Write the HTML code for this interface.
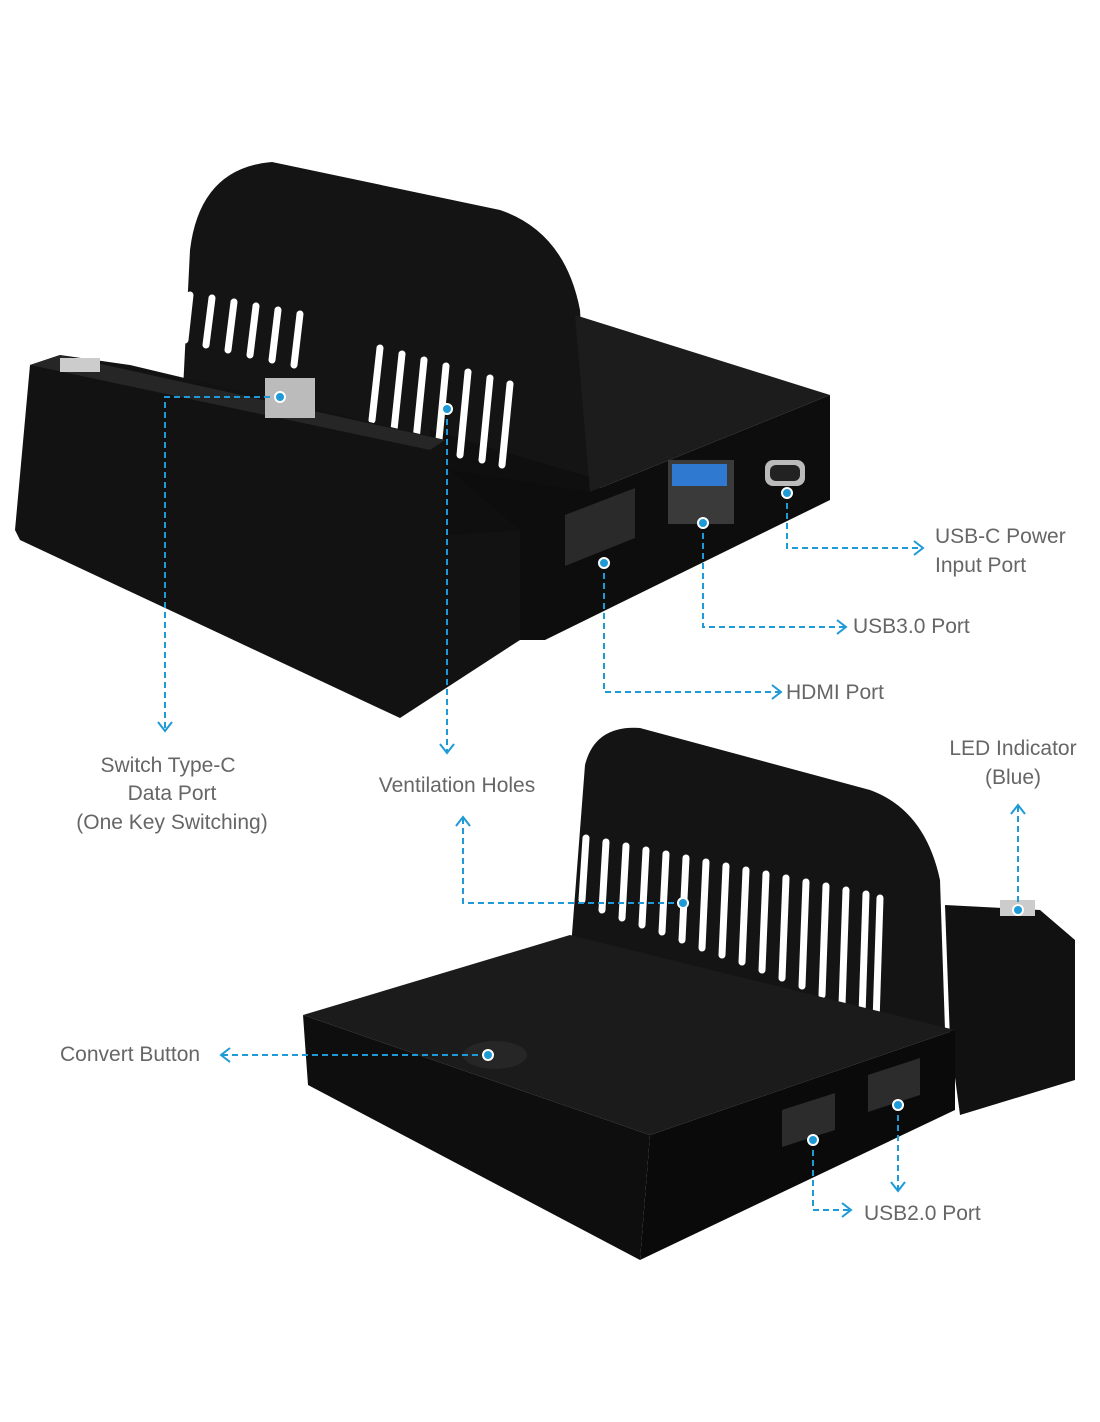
<!DOCTYPE html>
<html><head><meta charset="utf-8"><style>
html,body{margin:0;padding:0;background:#fff}
svg{display:block}
text{font-family:"Liberation Sans",sans-serif;font-size:21px;fill:#666}
.l{stroke:#1e9ad6;stroke-width:2;stroke-dasharray:6 4;fill:none}
.a{stroke:#1e9ad6;stroke-width:2;fill:none}
.d{fill:#1e9ad6;stroke:#fff;stroke-width:2}
.s{stroke:#fff;stroke-width:7;stroke-linecap:round}
</style></head><body>
<svg width="1100" height="1422" viewBox="0 0 1100 1422">
<!-- TOP DOCK -->
<path d="M180,450 L190,250 Q200,168 272,162 L500,210 Q565,232 580,310 L590,492 Z" fill="#141414"/>
<polygon points="430,430 600,480 600,560 520,640 430,660" fill="#0f0f0f"/>
<polygon points="575,315 830,395 590,492" fill="#1c1c1c"/>
<polygon points="590,492 830,395 830,500 545,640 520,640 520,530 450,470" fill="#0d0d0d"/>
<g class="s">
<line x1="190" y1="295" x2="185" y2="340"/><line x1="212" y1="298" x2="206" y2="345"/><line x1="234" y1="302" x2="228" y2="350"/>
<line x1="256" y1="306" x2="250" y2="355"/><line x1="278" y1="310" x2="272" y2="360"/><line x1="300" y1="314" x2="294" y2="365"/>
<line x1="380" y1="348" x2="372" y2="420"/><line x1="402" y1="354" x2="394" y2="430"/><line x1="424" y1="360" x2="416" y2="440"/>
<line x1="446" y1="366" x2="438" y2="450"/><line x1="468" y1="372" x2="460" y2="455"/><line x1="490" y1="378" x2="482" y2="460"/><line x1="510" y1="384" x2="502" y2="465"/>
</g>
<polygon points="30,365 60,355 130,365 445,440 445,535 520,530 520,640 400,718 20,540 15,530" fill="#121212"/>
<polygon points="30,365 60,355 445,440 430,450" fill="#262626"/>
<rect x="265" y="378" width="50" height="40" fill="#bbb"/>
<rect x="60" y="358" width="40" height="14" fill="#ccc"/>
<polygon points="565,515 635,488 635,538 565,566" fill="#2a2a2a"/>
<rect x="668" y="460" width="66" height="64" fill="#3a3a3a"/><rect x="672" y="464" width="55" height="22" fill="#2f7ad0"/>
<rect x="765" y="460" width="40" height="26" rx="8" fill="#bbb"/><rect x="770" y="465" width="30" height="16" rx="6" fill="#222"/>
<!-- BOTTOM DOCK -->
<path d="M570,960 L585,765 Q595,725 640,728 L870,790 Q925,810 940,880 L945,1030 Z" fill="#141414"/>
<g class="s">
<line x1="586" y1="838" x2="582" y2="900"/><line x1="606" y1="842" x2="602" y2="910"/><line x1="626" y1="846" x2="622" y2="918"/>
<line x1="646" y1="850" x2="642" y2="925"/><line x1="666" y1="854" x2="662" y2="932"/><line x1="686" y1="858" x2="682" y2="940"/>
<line x1="706" y1="862" x2="702" y2="948"/><line x1="726" y1="866" x2="722" y2="955"/><line x1="746" y1="870" x2="742" y2="962"/>
<line x1="766" y1="874" x2="762" y2="970"/><line x1="786" y1="878" x2="782" y2="978"/><line x1="806" y1="882" x2="802" y2="986"/>
<line x1="826" y1="886" x2="822" y2="995"/><line x1="846" y1="890" x2="842" y2="1005"/><line x1="866" y1="894" x2="862" y2="1015"/><line x1="880" y1="898" x2="876" y2="1022"/>
</g>
<polygon points="945,905 1040,910 1075,940 1075,1080 960,1115 950,1040" fill="#111"/>
<rect x="1000" y="900" width="35" height="16" fill="#ccc"/>
<polygon points="303,1015 570,935 955,1030 650,1135" fill="#1b1b1b"/>
<polygon points="303,1015 650,1135 640,1260 308,1085" fill="#0e0e0e"/>
<polygon points="650,1135 955,1030 955,1110 640,1260" fill="#0a0a0a"/>
<ellipse cx="495" cy="1055" rx="32" ry="14" fill="#262626"/>
<polygon points="782,1110 835,1093 835,1130 782,1147" fill="#2c2c2c"/>
<polygon points="868,1075 920,1058 920,1095 868,1112" fill="#2c2c2c"/>
<!-- CALLOUTS -->
<polyline class="l" points="280,397 165,397 165,730"/><polyline class="a" points="158,722 165,731 172,722"/><circle class="d" cx="280" cy="397" r="5"/>
<polyline class="l" points="447,409 447,752"/><polyline class="a" points="440,744 447,753 454,744"/><circle class="d" cx="447" cy="409" r="5"/>
<polyline class="l" points="463,818 463,903 683,903"/><polyline class="a" points="456,826 463,817 470,826"/><circle class="d" cx="683" cy="903" r="5"/>
<polyline class="l" points="787,493 787,548 922,548"/><polyline class="a" points="914,541 923,548 914,555"/><circle class="d" cx="787" cy="493" r="5"/>
<polyline class="l" points="703,523 703,627 845,627"/><polyline class="a" points="837,620 846,627 837,634"/><circle class="d" cx="703" cy="523" r="5"/>
<polyline class="l" points="604,563 604,692 780,692"/><polyline class="a" points="772,685 781,692 772,699"/><circle class="d" cx="604" cy="563" r="5"/>
<polyline class="l" points="1018,806 1018,910"/><polyline class="a" points="1011,814 1018,805 1025,814"/><circle class="d" cx="1018" cy="910" r="5"/>
<polyline class="l" points="222,1055 488,1055"/><polyline class="a" points="230,1048 221,1055 230,1062"/><circle class="d" cx="488" cy="1055" r="5"/>
<polyline class="l" points="813,1140 813,1210 850,1210"/><polyline class="a" points="842,1203 851,1210 842,1217"/><circle class="d" cx="813" cy="1140" r="5"/>
<polyline class="l" points="898,1105 898,1190"/><polyline class="a" points="891,1182 898,1191 905,1182"/><circle class="d" cx="898" cy="1105" r="5"/>
<!-- LABELS -->
<text x="168" y="772" text-anchor="middle">Switch Type-C</text>
<text x="172" y="800" text-anchor="middle">Data Port</text>
<text x="172" y="829" text-anchor="middle">(One Key Switching)</text>
<text x="457" y="792" text-anchor="middle">Ventilation Holes</text>
<text x="935" y="543">USB-C Power</text>
<text x="935" y="572">Input Port</text>
<text x="853" y="633">USB3.0 Port</text>
<text x="786" y="699">HDMI Port</text>
<text x="1013" y="755" text-anchor="middle">LED Indicator</text>
<text x="1013" y="784" text-anchor="middle">(Blue)</text>
<text x="60" y="1061">Convert Button</text>
<text x="864" y="1220">USB2.0 Port</text>
</svg>
</body></html>
